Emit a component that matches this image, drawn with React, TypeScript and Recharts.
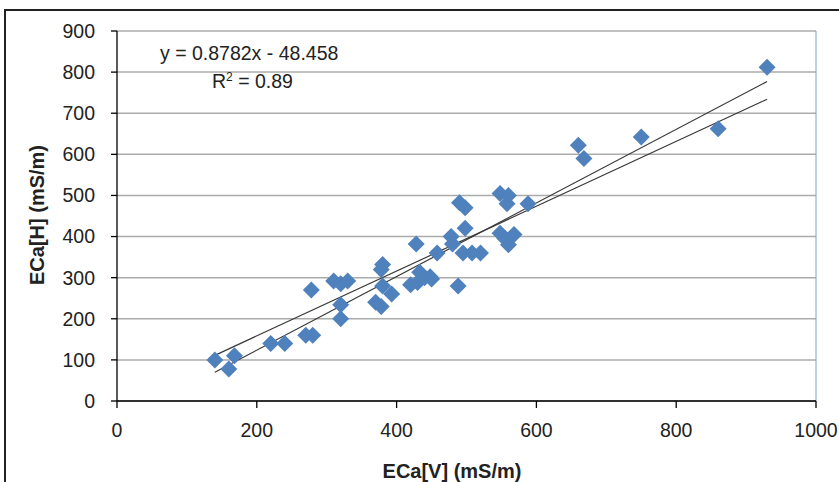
import React from "react";
import {
  ScatterChart,
  Scatter,
  XAxis,
  YAxis,
  CartesianGrid,
  ReferenceLine,
} from "recharts";

/* ── Data ─────────────────────────────────────────────────── */

const ecaV = [
  140, 160, 168, 220, 240, 270, 280, 278, 310, 320, 330, 320, 320, 370, 378,
  380, 380, 378, 393, 420, 430, 433, 440, 448, 450, 428, 458, 478, 480, 490,
  498, 498, 495, 508, 520, 488, 548, 560, 558, 588, 548, 568, 560, 555, 660,
  668, 750, 860, 930,
];
const ecaH = [
  100, 78, 110, 140, 140, 160, 160, 270, 292, 285, 292, 234, 200, 240, 230,
  280, 332, 320, 260, 283, 288, 313, 300, 302, 297, 382, 360, 400, 382, 482,
  470, 420, 360, 360, 360, 280, 505, 500, 480, 480, 408, 405, 380, 395, 622,
  590, 642, 662, 812,
];

const xTicks = [0, 200, 400, 600, 800, 1000];
const yTicks = [0, 100, 200, 300, 400, 500, 600, 700, 800, 900];

// trendline endpoints as drawn
const trendSteep = [
  { x: 140, y: 70 },
  { x: 930, y: 777 },
];
const trendFlat = [
  { x: 140, y: 111 },
  { x: 930, y: 734 },
];

const equation = "y = 0.8782x - 48.458";
const rSquared = "0.89";

const points = ecaV.map((x, i) => ({ x, y: ecaH[i] }));

const FONT = "'Liberation Sans', Arial, sans-serif";

/* ── Diamond marker ───────────────────────────────────────── */

function Diamond(props: any) {
  const { cx, cy } = props;
  const r = 8.5;
  return (
    <polygon
      points={`${cx},${cy - r} ${cx + r},${cy} ${cx},${cy + r} ${cx - r},${cy}`}
      fill="#4F81BD"
    />
  );
}

export default function App() {
  return (
    <div
      style={{
        position: "fixed",
        left: 0,
        top: 0,
        width: 839,
        height: 482,
        background: "#fff",
        overflow: "hidden",
        fontFamily: FONT,
      }}
    >
      {/* outer chart frame, cropped on right/bottom */}
      <div
        style={{
          position: "absolute",
          left: 4,
          top: 9,
          width: 900,
          height: 600,
          borderTop: "2px solid #222",
          borderLeft: "2px solid #222",
        }}
      />
      <div style={{ position: "absolute", left: 0, top: 0 }}>
        <ScatterChart
          width={839}
          height={482}
          margin={{ top: 31, right: 23, bottom: 31, left: 0 }}
        >
          <CartesianGrid
            vertical={false}
            stroke="#ABABAB"
            strokeWidth={1.5}
          />
          <XAxis
            type="number"
            dataKey="x"
            domain={[0, 1000]}
            ticks={xTicks}
            height={50}
            tickSize={7}
            tickMargin={15}
            axisLine={{ stroke: "#000", strokeWidth: 1.3 }}
            tickLine={{ stroke: "#000", strokeWidth: 1.3 }}
            tick={{ fill: "#222", fontSize: 19.5, fontFamily: FONT }}
          />
          <YAxis
            type="number"
            dataKey="y"
            domain={[0, 900]}
            ticks={yTicks}
            width={117}
            tickSize={6}
            tickMargin={16}
            axisLine={{ stroke: "#000", strokeWidth: 1.3 }}
            tickLine={{ stroke: "#000", strokeWidth: 1.3 }}
            tick={{ fill: "#222", fontSize: 19.5, fontFamily: FONT }}
          />
          <ReferenceLine x={1000} stroke="#7F9FCF" strokeWidth={1} />
          <Scatter
            data={points}
            shape={<Diamond />}
            isAnimationActive={false}
          />
          <ReferenceLine
            segment={trendSteep}
            stroke="#3a3a3a"
            strokeWidth={1.2}
          />
          <ReferenceLine
            segment={trendFlat}
            stroke="#3a3a3a"
            strokeWidth={1.2}
          />
        </ScatterChart>
      </div>

      {/* trendline label */}
      <div
        style={{
          position: "absolute",
          left: 160,
          top: 43,
          fontSize: 19.5,
          color: "#222",
          whiteSpace: "nowrap",
          lineHeight: "20px",
        }}
      >
        {equation}
      </div>
      <div
        style={{
          position: "absolute",
          left: 212,
          top: 71,
          fontSize: 19.5,
          color: "#222",
          whiteSpace: "nowrap",
          lineHeight: "20px",
        }}
      >
        R<sup style={{ fontSize: 12, verticalAlign: "7px", lineHeight: 0 }}>2</sup> = {rSquared}
      </div>

      {/* axis titles */}
      <div
        style={{
          position: "absolute",
          left: 452,
          top: 471,
          transform: "translate(-50%, -50%)",
          fontSize: 20,
          fontWeight: "bold",
          color: "#222",
          whiteSpace: "nowrap",
        }}
      >
        ECa[V] (mS/m)
      </div>
      <div
        style={{
          position: "absolute",
          left: 37,
          top: 215,
          transform: "translate(-50%, -50%) rotate(-90deg)",
          fontSize: 20,
          fontWeight: "bold",
          color: "#222",
          whiteSpace: "nowrap",
        }}
      >
        ECa[H] (mS/m)
      </div>
    </div>
  );
}
